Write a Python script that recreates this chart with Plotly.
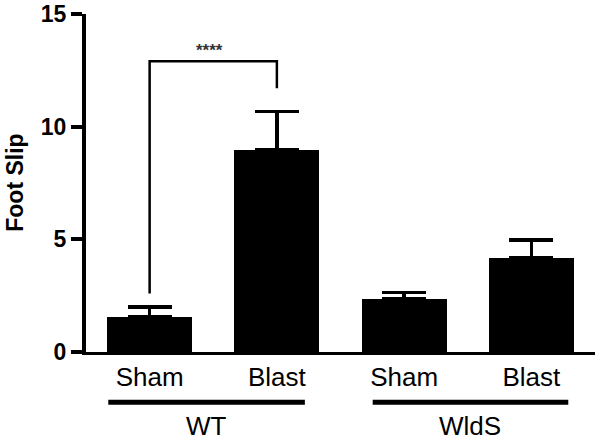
import plotly.graph_objects as go

categories = ["Sham", "Blast", "Sham", "Blast"]
groups = ["WT", "WldS"]
means = [1.57, 8.96, 2.37, 4.18]
sem = [0.43, 1.72, 0.26, 0.80]
y_ticks = [0, 5, 10, 15]

# significance bracket (WT Sham vs WT Blast)
sig_text = "****"
sig_top = 12.9
sig_left_end = 2.6
sig_right_end = 11.7

xpos = list(range(len(categories)))
FONT = "Liberation Sans, Arial, sans-serif"

fig = go.Figure()
fig.add_trace(go.Bar(
    x=xpos, y=means, width=0.667,
    marker=dict(color="black", line=dict(width=0)),
    error_y=dict(type="data", symmetric=False, array=sem,
                 arrayminus=[0] * len(sem), color="black",
                 thickness=3.5, width=22),
))

# bracket
fig.add_shape(type="path",
              path=f"M {xpos[0]},{sig_left_end} L {xpos[0]},{sig_top} L {xpos[1]},{sig_top} L {xpos[1]},{sig_right_end}",
              xref="x", yref="y", line=dict(color="black", width=2.5))
fig.add_annotation(x=(xpos[0] + xpos[1]) / 2 - 0.03, y=sig_top, text=f"<b>{sig_text}</b>",
                   xref="x", yref="y", showarrow=False, yanchor="bottom",
                   yshift=-1, font=dict(family=FONT, size=17, color="#333"))

# group lines and labels
group_spans = [(-0.325, 1.22), (1.753, 3.29)]
for g, (a, b) in zip(groups, group_spans):
    fig.add_shape(type="line", x0=a, x1=b, y0=-0.149, y1=-0.149,
                  xref="x", yref="paper", line=dict(color="black", width=5))
    fig.add_annotation(x=(a + b) / 2, y=-0.219, text=g, xref="x", yref="paper",
                       showarrow=False, yanchor="middle",
                       font=dict(family=FONT, size=26, color="black"))

fig.add_annotation(x=-0.14, y=0.5, xref="paper", yref="paper", text="<b>Foot Slip</b>",
                   textangle=-90, showarrow=False, xanchor="center", yanchor="middle",
                   font=dict(family=FONT, size=23, color="black"))

fig.update_layout(
    width=600, height=442,
    margin=dict(l=86, r=5, t=13.5, b=89.5),
    plot_bgcolor="white", paper_bgcolor="white",
    showlegend=False, bargap=0,
)
fig.update_xaxes(range=[-0.5, 3.5], tickvals=xpos, ticktext=categories,
                 showline=True, linecolor="black", linewidth=3, ticks="",
                 showgrid=False, zeroline=False, automargin=False,
                 tickfont=dict(family=FONT, size=26, color="black"))
fig.update_yaxes(range=[0, 15], tickvals=y_ticks, ticktext=[f"<b>{t}</b>" for t in y_ticks],
                 showline=True, linecolor="black", linewidth=4, ticks="outside",
                 ticklen=11, tickwidth=4, tickcolor="black",
                 showgrid=False, zeroline=False, automargin=False,
                 tickfont=dict(family=FONT, size=23, color="black"))

fig.write_html("out.html", config={"displayModeBar": False},
               post_script="document.body.style.margin='0px';")
